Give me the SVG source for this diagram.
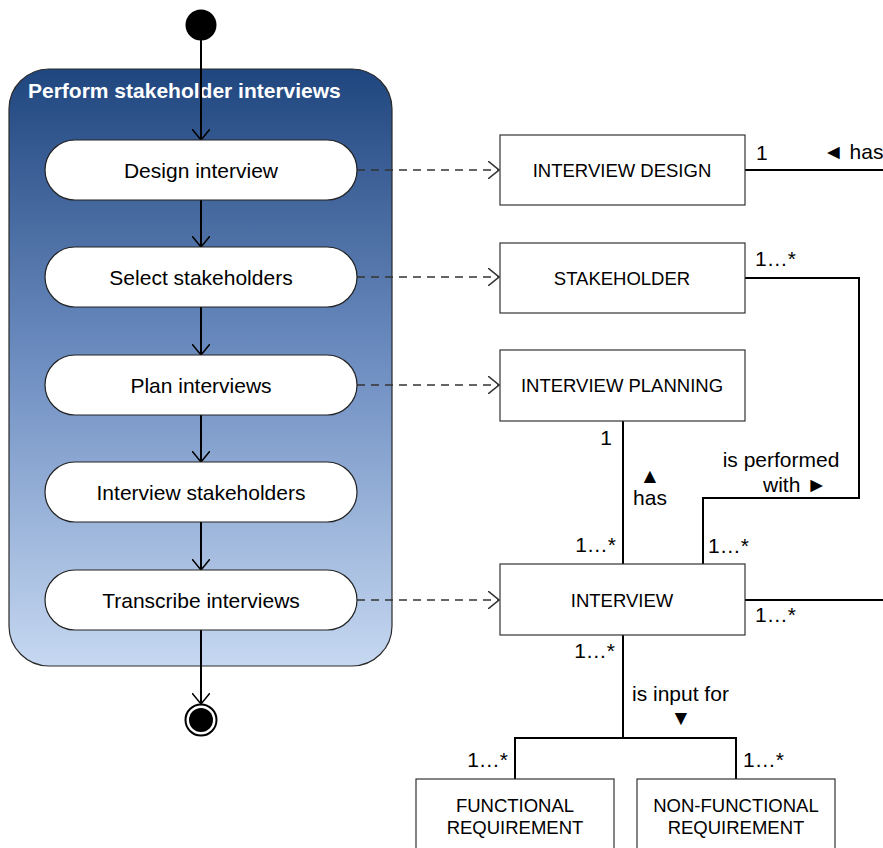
<svg xmlns="http://www.w3.org/2000/svg" width="883" height="848" viewBox="0 0 883 848">
  <defs>
    <linearGradient id="actGrad" x1="0" y1="0" x2="0" y2="1">
      <stop offset="0" stop-color="#20467f"/>
      <stop offset="0.5" stop-color="#6f8fc2"/>
      <stop offset="1" stop-color="#c6d8f1"/>
    </linearGradient>
    <marker id="open" viewBox="0 0 12 18" refX="11" refY="9" markerWidth="12" markerHeight="18" markerUnits="userSpaceOnUse" orient="auto">
      <path d="M0,0 L11,9 L0,18" fill="none" stroke="#000" stroke-width="1.5"/>
    </marker>
    <marker id="openDash" viewBox="0 0 12 18" refX="11" refY="9" markerWidth="12" markerHeight="18" markerUnits="userSpaceOnUse" orient="auto">
      <path d="M0,0 L11,9 L0,18" fill="none" stroke="#333" stroke-width="1.5"/>
    </marker>
  </defs>
  <style>
    text { font-family: "Liberation Sans", Arial, sans-serif; fill: #000; }
    .act rect { fill: #fff; stroke: #222; stroke-width: 1.2; }
    .act text { font-size: 21px; text-anchor: middle; }
    .cls rect { fill: #fff; stroke: #333; stroke-width: 1.2; }
    .cls text { font-size: 18.5px; text-anchor: middle; }
    .flow { stroke: #000; stroke-width: 2; fill: none; marker-end: url(#open); }
    .dep { stroke: #333; stroke-width: 1.5; stroke-dasharray: 8 6; fill: none; marker-end: url(#openDash); }
    .assoc { stroke: #000; stroke-width: 2; fill: none; }
    .lbl { font-size: 21px; }
  </style>

  <rect width="883" height="848" fill="#fff"/>

  <!-- activity container -->
  <g id="activity">
    <rect x="9" y="69" width="383" height="597" rx="40" ry="40" fill="url(#actGrad)" stroke="#2a2a2a" stroke-width="1.2"/>
    <text x="28" y="98" font-size="21" font-weight="bold" style="fill:#fff">Perform stakeholder interviews</text>
  </g>

  <!-- control flow and dependencies -->
  <g id="connectors">
    <line class="flow" x1="201" y1="40" x2="201" y2="140"/>
    <line class="flow" x1="201" y1="200" x2="201" y2="247"/>
    <line class="flow" x1="201" y1="307" x2="201" y2="355"/>
    <line class="flow" x1="201" y1="415" x2="201" y2="462"/>
    <line class="flow" x1="201" y1="522" x2="201" y2="570"/>
    <line class="flow" x1="201" y1="630" x2="201" y2="704"/>

    <line class="dep" x1="357" y1="170" x2="499" y2="170"/>
    <line class="dep" x1="357" y1="277" x2="499" y2="277"/>
    <line class="dep" x1="357" y1="385" x2="499" y2="385"/>
    <line class="dep" x1="357" y1="600" x2="499" y2="600"/>

    <!-- associations -->
    <line class="assoc" x1="745" y1="170" x2="883" y2="170"/>
    <polyline class="assoc" points="745,278 859,278 859,498 703,498 703,564"/>
    <line class="assoc" x1="623" y1="421" x2="623" y2="564"/>
    <line class="assoc" x1="745" y1="600" x2="883" y2="600"/>
    <line class="assoc" x1="623" y1="635" x2="623" y2="738"/>
    <polyline class="assoc" points="515,779 515,738 736,738 736,779"/>
  </g>

  <!-- association labels -->
  <g id="labels">
    <text class="lbl" x="756" y="160">1</text>
    <text class="lbl" x="823" y="159">◄ has</text>
    <text class="lbl" x="755" y="266">1…*</text>
    <text class="lbl" x="781" y="467" text-anchor="middle">is performed</text>
    <text class="lbl" x="763" y="492">with ►</text>
    <text class="lbl" x="708" y="553">1…*</text>
    <text class="lbl" x="612" y="445" text-anchor="end">1</text>
    <text class="lbl" x="650" y="483" text-anchor="middle">▲</text>
    <text class="lbl" x="650" y="505" text-anchor="middle">has</text>
    <text class="lbl" x="616" y="552" text-anchor="end">1…*</text>
    <text class="lbl" x="755" y="622">1…*</text>
    <text class="lbl" x="615" y="658" text-anchor="end">1…*</text>
    <text class="lbl" x="632" y="701">is input for</text>
    <text class="lbl" x="681" y="725" text-anchor="middle">▼</text>
    <text class="lbl" x="508" y="767" text-anchor="end">1…*</text>
    <text class="lbl" x="743" y="767">1…*</text>
  </g>

  <!-- initial and final nodes -->
  <g id="start">
    <circle cx="201" cy="25" r="15.5" fill="#000"/>
  </g>
  <g id="end">
    <circle cx="201" cy="720" r="15.5" fill="#fff" stroke="#000" stroke-width="2"/>
    <circle cx="201" cy="720" r="12" fill="#000"/>
  </g>

  <!-- actions -->
  <g id="design-interview" class="act">
    <rect x="45" y="140" width="312" height="60" rx="30"/>
    <text x="201" y="177.5">Design interview</text>
  </g>
  <g id="select-stakeholders" class="act">
    <rect x="45" y="247" width="312" height="60" rx="30"/>
    <text x="201" y="284.5">Select stakeholders</text>
  </g>
  <g id="plan-interviews" class="act">
    <rect x="45" y="355" width="312" height="60" rx="30"/>
    <text x="201" y="392.5">Plan interviews</text>
  </g>
  <g id="interview-stakeholders" class="act">
    <rect x="45" y="462" width="312" height="60" rx="30"/>
    <text x="201" y="499.5">Interview stakeholders</text>
  </g>
  <g id="transcribe-interviews" class="act">
    <rect x="45" y="570" width="312" height="60" rx="30"/>
    <text x="201" y="607.5">Transcribe interviews</text>
  </g>

  <!-- concepts -->
  <g id="interview-design" class="cls">
    <rect x="500" y="135" width="245" height="70"/>
    <text x="622" y="177">INTERVIEW DESIGN</text>
  </g>
  <g id="stakeholder" class="cls">
    <rect x="500" y="243" width="245" height="70"/>
    <text x="622" y="285">STAKEHOLDER</text>
  </g>
  <g id="interview-planning" class="cls">
    <rect x="500" y="350" width="245" height="71"/>
    <text x="622" y="392">INTERVIEW PLANNING</text>
  </g>
  <g id="interview" class="cls">
    <rect x="500" y="564" width="245" height="71"/>
    <text x="622" y="607">INTERVIEW</text>
  </g>
  <g id="functional-requirement" class="cls">
    <rect x="416" y="779" width="198" height="80"/>
    <text x="515" y="812">FUNCTIONAL</text>
    <text x="515" y="834">REQUIREMENT</text>
  </g>
  <g id="non-functional-requirement" class="cls">
    <rect x="637" y="779" width="198" height="80"/>
    <text x="736" y="812">NON-FUNCTIONAL</text>
    <text x="736" y="834">REQUIREMENT</text>
  </g>
</svg>
